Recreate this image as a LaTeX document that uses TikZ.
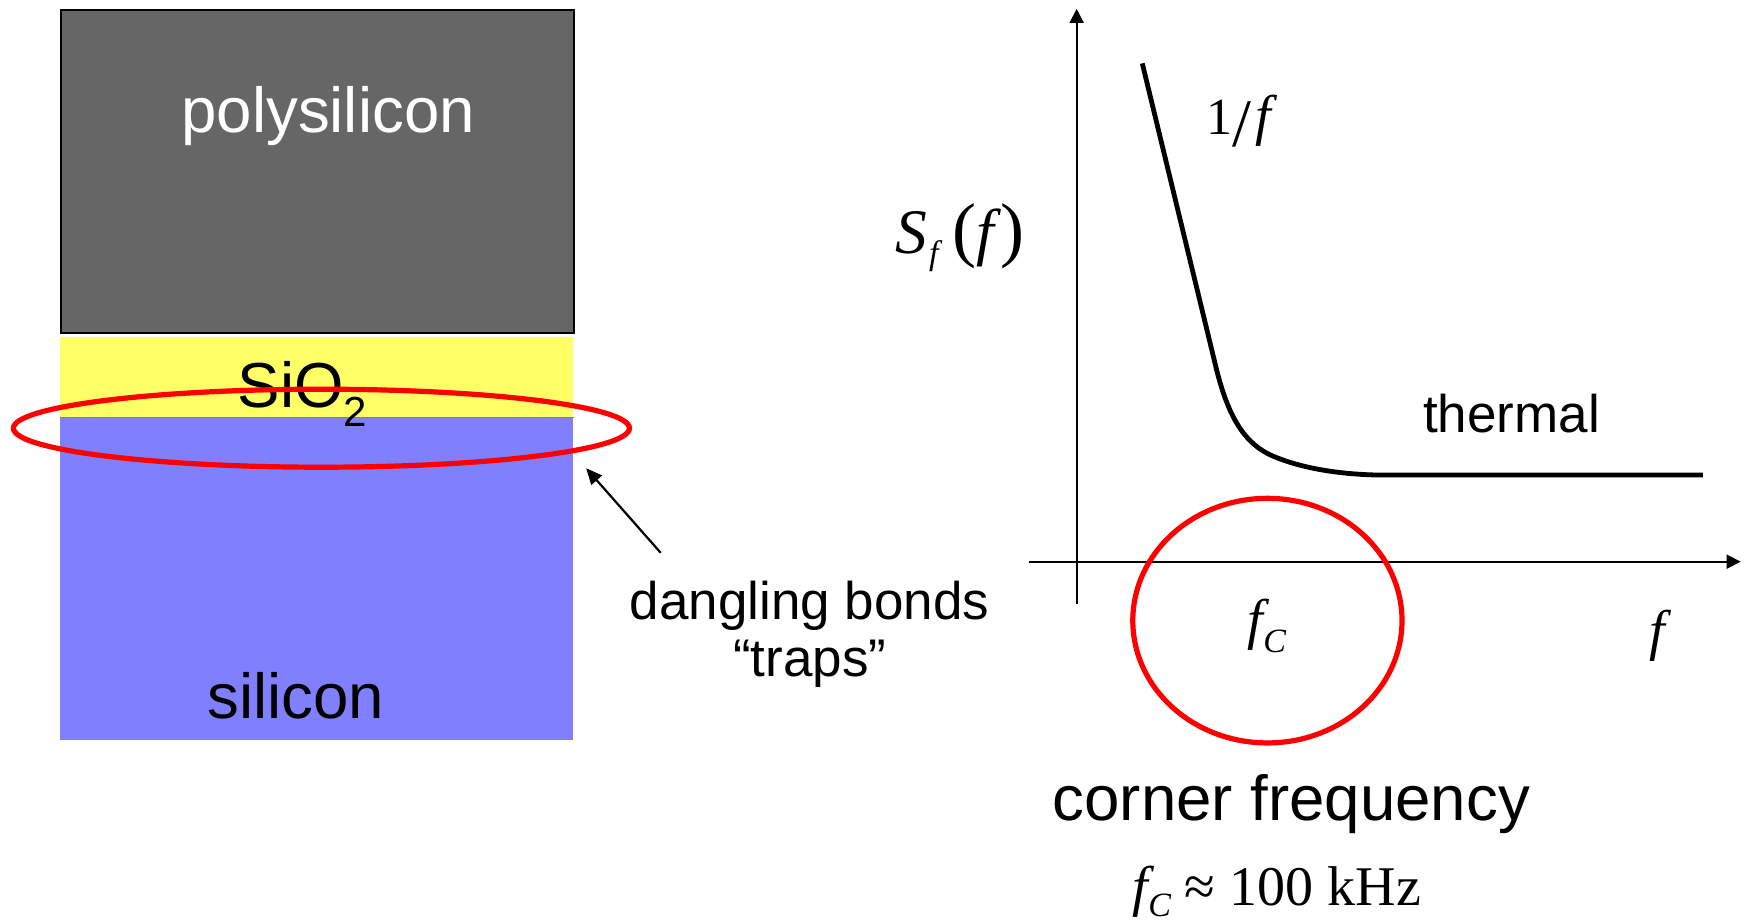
\documentclass[tikz,border=0pt]{standalone}
\usepackage{fontspec}
\setmainfont{Liberation Sans}
\newfontfamily\tms{Liberation Serif}
\usetikzlibrary{arrows.meta,shapes.geometric}
\definecolor{polygray}{RGB}{102,102,102}
\definecolor{oxyellow}{RGB}{255,255,102}
\definecolor{siblue}{RGB}{128,128,255}
\definecolor{ringred}{RGB}{255,0,0}
\tikzset{
  bigsans/.style={font=\fontsize{31.8}{36}\selectfont,inner sep=1pt},
  midsans/.style={font=\fontsize{26.5}{30}\selectfont,inner sep=1pt},
  ring/.style={draw=ringred,line width=2.6pt},
  axisline/.style={line width=0.9pt,-{Triangle[length=7pt,width=7pt]}},
  curveline/.style={line width=2.4pt,line join=round},
  mathtxt/.style={font=\tms\fontsize{28}{30}\selectfont,inner sep=1pt},
}
\newcommand{\mysub}[2][4.8pt]{\raisebox{-#1}{\fontsize{17}{17}\selectfont\itshape #2}}
\begin{document}
\begin{tikzpicture}[x=0.5561pt,y=-0.5561pt]
\useasboundingbox (0,0) rectangle (1568,830);
% layers
\node[draw=black,line width=1.2pt,fill=polygray,inner sep=0pt,anchor=north west,minimum width=256.4pt,minimum height=161.3pt] (poly) at (54,8) {};
\node[fill=oxyellow,inner sep=0pt,anchor=north west,minimum width=256.4pt,minimum height=40pt] (oxide) at (54,303) {};
\node[fill=siblue,inner sep=0pt,anchor=north west,minimum width=256.4pt,minimum height=161.3pt] (si) at (54,375) {};
\draw[gray,line width=0.6pt] (oxide.south west) -- (oxide.south east);
\node[bigsans,text=white,anchor=base] (polytxt) at (295,119) {polysilicon};
\node[bigsans,anchor=base] (oxtxt) at (272,366) {SiO\raisebox{-0.3em}{\fontsize{21}{21}\selectfont 2}};
\node[bigsans,anchor=base] (sitxt) at (266,646) {silicon};
% interface ring
\node[ring,ellipse,minimum width=308pt,minimum height=39pt,inner sep=0pt] (iface) at (289,385) {};
% label and arrow
\node[midsans,anchor=base] (dangl) at (728,557) {dangling bonds};
\node[midsans,anchor=base] (traps) at (728,608) {“traps”};
\coordinate (tail) at (594,497);
\coordinate (trap) at (527,421);
\draw[line width=1.1pt,-{Triangle[length=8pt,width=7pt]}] (tail) -- (trap);
% axes
\coordinate (ybot) at (968,543);
\coordinate (ytop) at (968,8);
\coordinate (xleft) at (925,505);
\coordinate (xright) at (1565,505);
\draw[axisline] (ybot) -- (ytop);
\draw[axisline] (xleft) -- (xright);
% curve
\coordinate (c0) at (1027,57);
\coordinate (c1) at (1092,325);
\coordinate (c2) at (1140,408);
\coordinate (c3) at (1235,427);
\coordinate (c4) at (1531,427);
\draw[curveline] (c0) -- (c1) .. controls (1102,368) and (1115,395) .. (c2) .. controls (1165,420) and (1200,426) .. (c3) -- (c4);
% labels on graph
\node[mathtxt,anchor=base] (oneoverf) at (1114,121) {{\fontsize{26}{26}\selectfont 1}\raisebox{-6pt}{\fontsize{34}{34}\selectfont /}\kern2pt{\itshape f}};
\node[mathtxt,anchor=base] (sf) at (863,228) {{\fontsize{31.7}{32}\selectfont\itshape S}\kern1pt\raisebox{-5.5pt}{\fontsize{17}{17}\selectfont\itshape f}\kern7pt{\fontsize{36}{36}\selectfont (}{\fontsize{31.7}{32}\selectfont\itshape f\kern1pt}\kern2pt{\fontsize{36}{36}\selectfont )}};
\node[midsans,anchor=base] (therm) at (1359,389) {thermal};
\node[mathtxt,anchor=base] (fcin) at (1139,574) {\itshape f\mysub[7pt]{C}};
\node[mathtxt,anchor=base] (faxis) at (1490,584) {\itshape f};
% corner ring
\node[ring,ellipse,minimum width=134.6pt,minimum height=122.3pt,inner sep=0pt] (corner) at (1139.5,558) {};
\node[bigsans,anchor=base] (cornertxt) at (1161,738) {corner frequency};
\node[mathtxt,anchor=base] (fcval) at (1148,814) {\itshape f\mysub[5.5pt]{C}\upshape\ ≈\ 100 kHz};
\end{tikzpicture}
\end{document}
